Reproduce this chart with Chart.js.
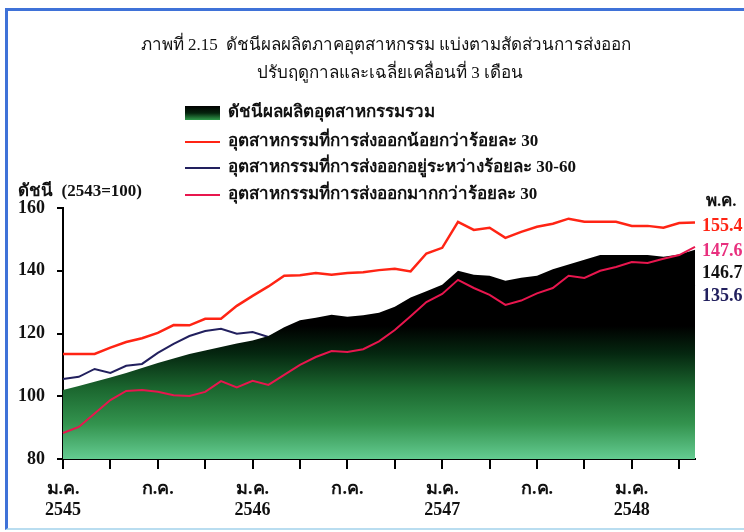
<!DOCTYPE html>
<html>
<head>
<meta charset="utf-8">
<script src="https://cdn.jsdelivr.net/npm/chart.js@4/dist/chart.umd.min.js"></script>
<style>
  body { margin: 0; background: #fff; }
  #wrap { position: relative; width: 744px; height: 532px; overflow: hidden; }
  #frame {
    position: absolute; left: 5px; top: 8px; width: 800px; height: 517px;
    border-left: 3px solid #3f72d8; border-top: 3px solid #3f72d8;
    border-bottom: 2px solid #b9ddf0; pointer-events: none;
  }
  canvas { position: absolute; left: 0; top: 0; }
</style>
</head>
<body>
<div id="wrap">
  <div id="frame"></div>
  <canvas id="chart" width="744" height="532"></canvas>
</div>
<script>
// months Jan 2545 .. May 2548
const monthNames = ['ม.ค.', 'ก.พ.', 'มี.ค.', 'เม.ย.', 'พ.ค.', 'มิ.ย.', 'ก.ค.', 'ส.ค.', 'ก.ย.', 'ต.ค.', 'พ.ย.', 'ธ.ค.'];
const years = [2545, 2546, 2547, 2548];
const lastMonth = 4; // พ.ค. 2548

const categories = [];
years.forEach(function (y, yi) {
  const n = (yi === years.length - 1) ? lastMonth + 1 : 12;
  for (let m = 0; m < n; m++) categories.push([monthNames[m], String(y)]);
});

// ดัชนีผลผลิตอุตสาหกรรมรวม
const totalIndex = [
  102.0, 103.3, 104.6, 106.0, 107.4, 109.0, 110.6, 112.0, 113.5, 114.6, 115.7, 116.8,
  117.8, 119.2, 122.0, 124.2, 125.0, 126.0, 125.3, 125.8, 126.6, 128.5, 131.5, 133.5,
  135.5, 140.0, 138.7, 138.4, 136.8, 137.8, 138.4, 140.5, 142.0, 143.5, 145.0, 145.0,
  145.0, 145.0, 144.5, 145.2, 146.7
];
// ส่งออกน้อยกว่าร้อยละ 30
const exportLow = [
  113.5, 113.5, 113.5, 115.5, 117.3, 118.5, 120.2, 122.7, 122.6, 124.7, 124.7, 128.8,
  132.0, 135.0, 138.4, 138.6, 139.3, 138.7, 139.3, 139.5, 140.2, 140.6, 139.8, 145.5,
  147.3, 155.6, 153.0, 153.7, 150.5, 152.4, 154.0, 155.0, 156.6, 155.6, 155.6, 155.6,
  154.3, 154.3, 153.7, 155.2, 155.4
];
// ส่งออกร้อยละ 30-60
const exportMid = [
  105.5, 106.2, 108.7, 107.4, 109.7, 110.3, 113.8, 116.7, 119.2, 120.8, 121.5, 119.9,
  120.5, 118.9, 119.5, 120.5, 121.8, 122.5, 122.0, 122.6, 123.5, 125.0, 127.0, 128.5,
  130.2, 133.4, 131.8, 130.5, 129.8, 130.6, 131.5, 132.6, 133.8, 134.2, 134.8, 135.0,
  134.5, 134.2, 134.4, 135.0, 135.6
];
// ส่งออกมากกว่าร้อยละ 30
const exportHigh = [
  88.3, 90.2, 94.5, 98.8, 101.7, 102.0, 101.4, 100.3, 100.1, 101.4, 104.8, 102.8,
  104.9, 103.6, 106.8, 110.0, 112.5, 114.4, 114.1, 115.0, 117.5, 121.1, 125.5, 130.0,
  132.6, 137.1, 134.5, 132.3, 129.1, 130.5, 132.8, 134.5, 138.4, 137.7, 140.0, 141.2,
  142.8, 142.5, 143.8, 145.0, 147.6
];

const yTicks = [80, 100, 120, 140, 160];

const titleLines = [
  'ภาพที่ 2.15  ดัชนีผลผลิตภาคอุตสาหกรรม แบ่งตามสัดส่วนการส่งออก',
  'ปรับฤดูกาลและเฉลี่ยเคลื่อนที่ 3 เดือน'
];
const yCaption = 'ดัชนี  (2543=100)';

const RED = '#ff2414';
const NAVY = '#22205e';
const PINK = '#e8164e';

const thaiFont = "'Liberation Serif', 'DejaVu Serif', 'Noto Sans', serif";
const numFont = "'Liberation Serif', 'DejaVu Serif', serif";

function areaGradient(context) {
  const chart = context.chart;
  const a = chart.chartArea;
  if (!a) return '#0a3';
  const g = chart.ctx.createLinearGradient(0, a.top, 0, a.bottom);
  g.addColorStop(0.0, '#000000');
  g.addColorStop(0.47, '#000000');
  g.addColorStop(0.58, '#052710');
  g.addColorStop(0.72, '#1b672f');
  g.addColorStop(0.86, '#33934e');
  g.addColorStop(1.0, '#64cb91');
  return g;
}

// title, legend, y caption and the last-month values
const decorations = {
  id: 'decorations',
  afterDraw(chart) {
    const ctx = chart.ctx;
    const ds = chart.data.datasets;
    ctx.save();
    ctx.textBaseline = 'middle';

    ctx.fillStyle = '#111';
    ctx.textAlign = 'center';
    ctx.font = '17px ' + thaiFont;
    ctx.fillText(titleLines[0], 386, 46);
    ctx.fillText(titleLines[1], 390, 74);

    // legend rows in the order the series are listed
    const rowY = [113, 142, 168, 195];
    ctx.textAlign = 'left';
    ctx.font = 'bold 17px ' + thaiFont;
    ds.forEach(function (d, r) {
      const y = rowY[r];
      if (d.fill) {
        const g = ctx.createLinearGradient(0, y - 7, 0, y + 7);
        g.addColorStop(0, '#000');
        g.addColorStop(0.5, '#05230d');
        g.addColorStop(1, '#2f9a4a');
        ctx.fillStyle = g;
        ctx.fillRect(185, y - 7, 35, 14);
      } else {
        ctx.strokeStyle = d.borderColor;
        ctx.lineWidth = 2;
        ctx.beginPath();
        ctx.moveTo(185, y);
        ctx.lineTo(220, y);
        ctx.stroke();
      }
      ctx.fillStyle = '#111';
      ctx.fillText(d.label, 228, y);
    });

    ctx.font = 'bold 17px ' + thaiFont;
    ctx.fillText(yCaption, 18, 192);

    // values for the last month, stacked at the right
    const last = categories.length - 1;
    ctx.fillText(categories[last][0], 706, 202);
    const endRows = [
      { di: 1, y: 226, color: RED },
      { di: 3, y: 251, color: '#e8307e' },
      { di: 0, y: 273, color: '#111' },
      { di: 2, y: 296, color: NAVY }
    ];
    ctx.font = 'bold 18px ' + numFont;
    endRows.forEach(function (e) {
      ctx.fillStyle = e.color;
      ctx.fillText(ds[e.di].data[last].toFixed(1), 702, e.y);
    });
    ctx.restore();
  }
};

const ctx = document.getElementById('chart').getContext('2d');
new Chart(ctx, {
  type: 'line',
  data: {
    labels: categories,
    datasets: [
      {
        label: 'ดัชนีผลผลิตอุตสาหกรรมรวม',
        data: totalIndex,
        fill: 'start',
        backgroundColor: areaGradient,
        borderWidth: 0,
        pointRadius: 0,
        tension: 0,
        order: 2
      },
      {
        label: 'อุตสาหกรรมที่การส่งออกน้อยกว่าร้อยละ 30',
        data: exportLow,
        borderColor: RED,
        borderWidth: 2.5,
        pointRadius: 0,
        fill: false,
        order: 0
      },
      {
        label: 'อุตสาหกรรมที่การส่งออกอยู่ระหว่างร้อยละ 30-60',
        data: exportMid,
        borderColor: NAVY,
        borderWidth: 2,
        pointRadius: 0,
        fill: false,
        order: 3
      },
      {
        label: 'อุตสาหกรรมที่การส่งออกมากกว่าร้อยละ 30',
        data: exportHigh,
        borderColor: PINK,
        borderWidth: 2,
        pointRadius: 0,
        fill: false,
        order: 1
      }
    ]
  },
  options: {
    responsive: false,
    animation: false,
    layout: { padding: { top: 208, right: 49, bottom: 0, left: 0 } },
    plugins: {
      legend: { display: false },
      title: { display: false },
      tooltip: { enabled: false }
    },
    scales: {
      x: {
        offset: false,
        afterFit: function (scale) { scale.height = 73; },
        border: { color: '#000', width: 2 },
        grid: {
          drawOnChartArea: false,
          drawTicks: true,
          tickLength: 10,
          lineWidth: 2,
          color: function (c) { return c.index % 3 === 0 ? '#000' : 'rgba(0,0,0,0)'; }
        },
        ticks: {
          autoSkip: false,
          maxRotation: 0,
          padding: 10,
          color: '#111',
          font: { family: thaiFont, size: 18, weight: 'bold', lineHeight: 1.15 },
          callback: function (v, i) {
            const c = categories[i];
            if (i % 12 === 0) return c;
            if (i % 12 === 6) return c[0];
            return '';
          }
        }
      },
      y: {
        min: yTicks[0],
        max: yTicks[yTicks.length - 1],
        afterFit: function (scale) { scale.width = 63; },
        afterBuildTicks: function (scale) { scale.ticks = yTicks.map(function (v) { return { value: v }; }); },
        border: { color: '#000', width: 2 },
        grid: {
          drawOnChartArea: false,
          drawTicks: true,
          tickLength: 6,
          lineWidth: 2,
          color: '#000'
        },
        ticks: {
          padding: 12,
          color: '#111',
          font: { family: numFont, size: 18, weight: 'bold' }
        }
      }
    }
  },
  plugins: [decorations]
});
</script>
</body>
</html>
